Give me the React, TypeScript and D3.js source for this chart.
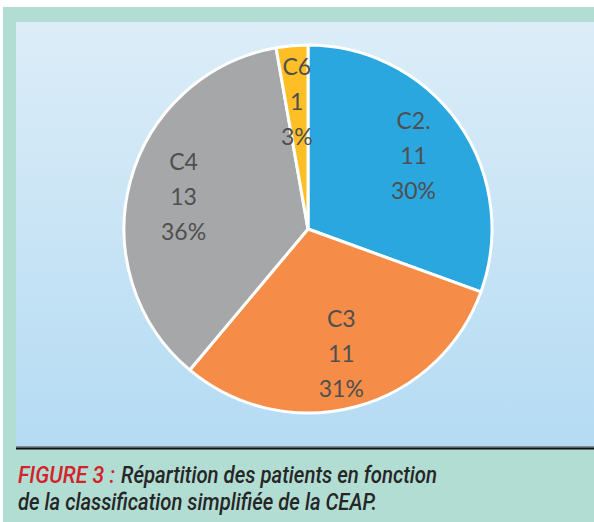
import React from "react";
import * as d3 from "d3";

const WIDTH = 594;
const HEIGHT = 522;

// CEAP classes, patient counts and the percentages printed on the slices
const categories = ["C2.", "C3", "C4", "C6"];
const counts = [11, 11, 13, 1];
const percents = ["30%", "31%", "36%", "3%"];
const colors = ["#2aa7df", "#f58d48", "#a6a7a9", "#fdbf25"];

const captionRed = "FIGURE 3 :";
const captionLine1 = "Répartition des patients en fonction";
const captionLine2 = "de la classification simplifiée de la CEAP.";

export default function App() {
  const cx = 308;
  const cy = 229;
  const radius = 184;

  const slices = d3
    .pie<number>()
    .sort(null)
    .startAngle(0)
    .endAngle(2 * Math.PI)(counts);

  const arc = d3.arc<d3.PieArcDatum<number>>().innerRadius(0).outerRadius(radius);
  // labels sit about 70% of the way out, like Excel's best-fit placement
  const labelArc = d3
    .arc<d3.PieArcDatum<number>>()
    .innerRadius(radius * 0.7)
    .outerRadius(radius * 0.7);

  const lineGap = 35;

  return (
    <svg
      width={WIDTH}
      height={HEIGHT}
      style={{ position: "absolute", left: 0, top: 0, display: "block" }}
    >
      <defs>
        <linearGradient id="panelBg" x1="0" y1="0" x2="0" y2="1">
          <stop offset="0%" stopColor="#dcedf8" />
          <stop offset="100%" stopColor="#b4dbf3" />
        </linearGradient>
      </defs>
      <rect x={0} y={0} width={WIDTH} height={HEIGHT} fill="#ffffff" />
      <rect x={3} y={7} width={WIDTH - 3} height={HEIGHT - 7} fill="#b2ddd3" />
      <rect x={16} y={22} width={WIDTH - 16} height={426} fill="url(#panelBg)" />
      <rect x={16} y={446} width={WIDTH - 16} height={1.5} fill="#7f8c94" />
      <rect x={16} y={447.5} width={WIDTH - 16} height={2} fill="#111111" />

      <g transform={`translate(${cx},${cy})`}>
        {slices.map((s, i) => (
          <path
            key={categories[i]}
            d={arc(s) ?? ""}
            fill={colors[i]}
            stroke="#ffffff"
            strokeWidth={3}
            strokeLinejoin="round"
          />
        ))}
        {slices.map((s, i) => {
          const [lx, ly] = labelArc.centroid(s);
          return (
            <text
              key={"l" + i}
              x={lx}
              y={ly}
              textAnchor="middle"
              fontFamily="Lato, 'Open Sans', sans-serif"
              fontSize={23}
              fill="#4f4f4f"
            >
              <tspan x={lx} dy={-lineGap + 9}>
                {categories[i]}
              </tspan>
              <tspan x={lx} dy={lineGap}>
                {counts[i]}
              </tspan>
              <tspan x={lx} dy={lineGap}>
                {percents[i]}
              </tspan>
            </text>
          );
        })}
      </g>

      <g
        fontFamily="Roboto, 'Liberation Sans Narrow', sans-serif"
        fontStyle="italic"
        fontWeight={500}
        fontSize={23.5}
      >
        <text
          x={18}
          y={483}
          fill="#d3222a"
          textLength={97}
          lengthAdjust="spacingAndGlyphs"
        >
          {captionRed}
        </text>
        <text
          x={121}
          y={483}
          fill="#262626"
          textLength={316}
          lengthAdjust="spacingAndGlyphs"
        >
          {captionLine1}
        </text>
        <text
          x={18}
          y={510}
          fill="#262626"
          textLength={359}
          lengthAdjust="spacingAndGlyphs"
        >
          {captionLine2}
        </text>
      </g>
    </svg>
  );
}
